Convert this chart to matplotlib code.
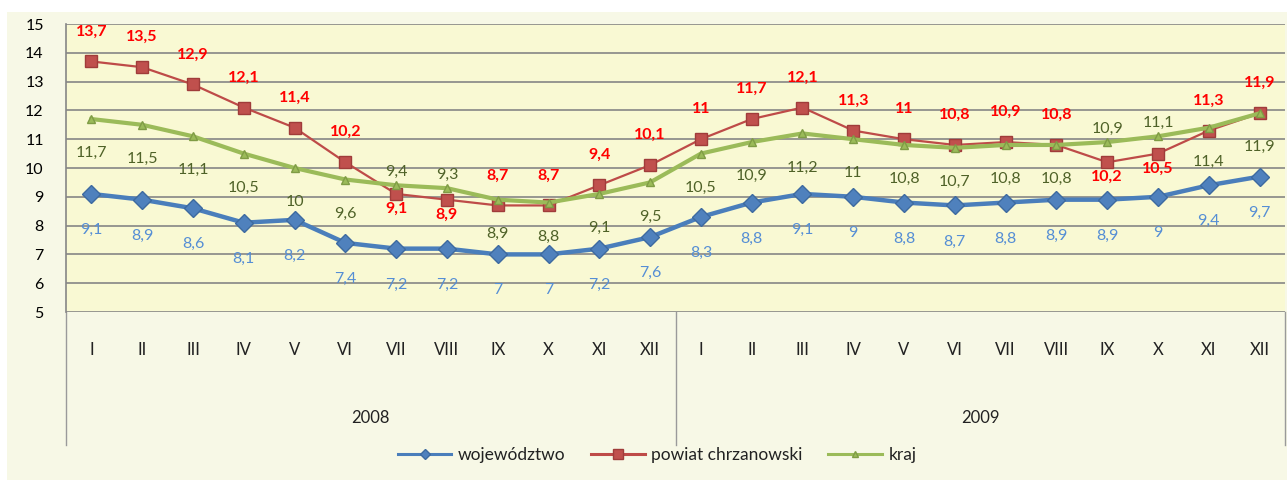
import matplotlib.pyplot as plt
import matplotlib.patches as patches
import matplotlib.transforms as mtransforms
import numpy as np

# dane
miesiace = ['I', 'II', 'III', 'IV', 'V', 'VI', 'VII', 'VIII', 'IX', 'X', 'XI', 'XII']
lata = ['2008', '2009']
wojewodztwo = [9.1, 8.9, 8.6, 8.1, 8.2, 7.4, 7.2, 7.2, 7.0, 7.0, 7.2, 7.6,
               8.3, 8.8, 9.1, 9.0, 8.8, 8.7, 8.8, 8.9, 8.9, 9.0, 9.4, 9.7]
powiat = [13.7, 13.5, 12.9, 12.1, 11.4, 10.2, 9.1, 8.9, 8.7, 8.7, 9.4, 10.1,
          11.0, 11.7, 12.1, 11.3, 11.0, 10.8, 10.9, 10.8, 10.2, 10.5, 11.3, 11.9]
kraj = [11.7, 11.5, 11.1, 10.5, 10.0, 9.6, 9.4, 9.3, 8.9, 8.8, 9.1, 9.5,
        10.5, 10.9, 11.2, 11.0, 10.8, 10.7, 10.8, 10.8, 10.9, 11.1, 11.4, 11.9]

# polozenie etykiet: u = nad punktem, d = pod punktem
poz_powiat = list('uuuuuudduuuu' + 'uuuuuuuuddu' + 'u')
poz_kraj = list('dddddduudddd' + 'ddddddddu' + 'udd')

plt.rcParams['font.family'] = ['Lato', 'DejaVu Sans']

fig = plt.figure(figsize=(12.87, 4.86), dpi=100)
fig.patch.set_facecolor('white')
fig.add_artist(patches.Rectangle((7 / 1287, 6 / 486), 1280 / 1287, 468 / 486,
                                 transform=fig.transFigure, facecolor='#f7f8e6',
                                 edgecolor='none', zorder=0))

ax = fig.add_axes([66 / 1287, 1 - 312 / 486, 1219 / 1287, 288 / 486])
ax.set_facecolor('#f9f9d3')

x = np.arange(len(wojewodztwo))

ax.plot(x, wojewodztwo, color='#4a7ebb', lw=3.2, marker='D', ms=9,
        mfc='#4f81bd', mec='#3d6aa0', label='województwo', zorder=4)
ax.plot(x, powiat, color='#be4b48', lw=1.6, marker='s', ms=9,
        mfc='#c0504d', mec='#a03c3a', label='powiat chrzanowski', zorder=3)
ax.plot(x, kraj, color='#9bbb59', lw=3.0, marker='^', ms=6,
        mfc='#9bbb59', mec='#7f9c45', label='kraj', zorder=5)

def fmt(v):
    s = ('%.1f' % v).replace('.', ',')
    return s[:-2] if s.endswith(',0') else s

px = 72 / 100
for i, v in enumerate(wojewodztwo):
    ax.annotate(fmt(v), (i, v), xytext=(0, -36 * px), textcoords='offset points',
                ha='center', va='center', color='#558ed5', fontsize=11.5, zorder=6)
for i, v in enumerate(powiat):
    dy = 30 if poz_powiat[i] == 'u' else -15
    ax.annotate(fmt(v), (i, v), xytext=(0, dy * px), textcoords='offset points',
                ha='center', va='center', color='#ff0000', fontsize=11.5,
                fontweight='bold', zorder=6)
for i, v in enumerate(kraj):
    dy = 13 if poz_kraj[i] == 'u' else -34
    ax.annotate(fmt(v), (i, v), xytext=(0, dy * px), textcoords='offset points',
                ha='center', va='center', color='#4f6228', fontsize=11.5, zorder=6)

ax.set_xlim(-0.5, len(x) - 0.5)
ax.set_ylim(5, 15)
ax.set_yticks(range(5, 16))
ax.yaxis.grid(True, color='#868686', lw=1.2)
ax.set_axisbelow(True)
ax.tick_params(axis='y', length=0, pad=16, labelsize=11.5)
ax.set_xticks([])
for s in ['top', 'right', 'bottom']:
    ax.spines[s].set_visible(False)
ax.spines['left'].set_color('#868686')
ax.spines['left'].set_linewidth(1.2)

# etykiety kategorii (dwa poziomy)
tr = mtransforms.blended_transform_factory(ax.transData, ax.transAxes)
etykiety = miesiace * len(lata)
for i, m in enumerate(etykiety):
    ax.text(i, -38 / 288, m, transform=tr, ha='center', va='center',
            fontsize=12, color='#222222')
for j, rok in enumerate(lata):
    ax.text(j * 12 + 5.5, -106 / 288, rok, transform=tr, ha='center', va='center',
            fontsize=12, color='#222222')
for j in range(len(lata) + 1):
    ax.plot([j * 12 - 0.5, j * 12 - 0.5], [0, -133 / 288], transform=tr,
            color='#9a9a9a', lw=1.0, clip_on=False)

leg = ax.legend(loc='center', bbox_to_anchor=(657 / 1287, 1 - 455 / 486),
                bbox_transform=fig.transFigure, ncol=3, frameon=False,
                fontsize=12.5, handlelength=3.1, columnspacing=1.5,
                handletextpad=0.35)
for h, ms in zip(leg.legend_handles, [5.5, 7.5, 5]):
    h.set_markersize(ms)
    h.set_linewidth(2.2)
for t in leg.get_texts():
    t.set_color('#222222')

fig.savefig('out.png', dpi=100)
